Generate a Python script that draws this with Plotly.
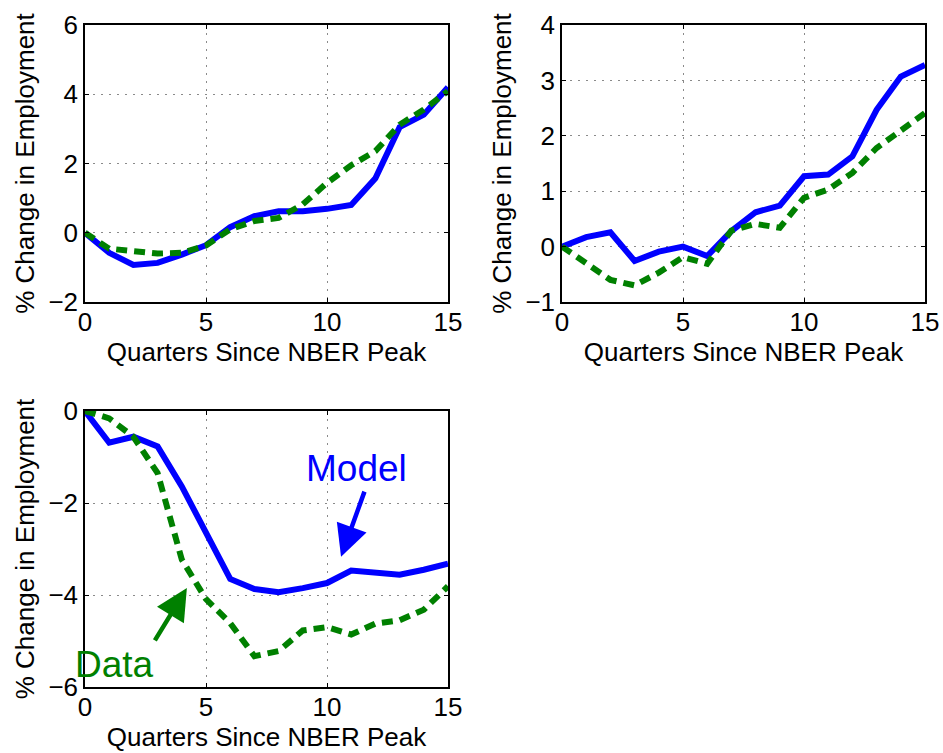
import plotly.graph_objects as go

# Quarters since the NBER business-cycle peak
quarters = list(range(16))

# Panel 1
model_a = [0.0, -0.58, -0.93, -0.87, -0.63, -0.36, 0.16, 0.48, 0.62, 0.62, 0.69, 0.80, 1.57, 3.05, 3.41, 4.20]
data_a = [0.0, -0.46, -0.53, -0.60, -0.58, -0.37, 0.10, 0.34, 0.43, 0.82, 1.44, 1.95, 2.36, 3.12, 3.56, 4.09]

# Panel 2
model_b = [0.0, 0.17, 0.26, -0.26, -0.09, 0.0, -0.17, 0.28, 0.62, 0.74, 1.27, 1.30, 1.63, 2.47, 3.07, 3.28]
data_b = [0.0, -0.29, -0.60, -0.70, -0.47, -0.19, -0.31, 0.29, 0.41, 0.34, 0.88, 1.03, 1.33, 1.78, 2.11, 2.41]

# Panel 3
model_c = [0.0, -0.69, -0.56, -0.77, -1.64, -2.66, -3.65, -3.87, -3.94, -3.85, -3.74, -3.47, -3.51, -3.56, -3.45, -3.32]
data_c = [0.0, -0.16, -0.56, -1.35, -3.23, -4.09, -4.61, -5.33, -5.22, -4.77, -4.70, -4.86, -4.62, -4.55, -4.32, -3.81]

x_ticks = [0, 5, 10, 15]
y_ticks_a = [-2, 0, 2, 4, 6]
y_ticks_b = [-1, 0, 1, 2, 3, 4]
y_ticks_c = [-6, -4, -2, 0]

BLUE = "#0000ff"
GREEN = "#008000"
W, H = 943, 753
FONT = "Liberation Sans, Arial, sans-serif"

fig = go.Figure()

panels = [
    ("x", "y", model_a, data_a),
    ("x2", "y2", model_b, data_b),
    ("x3", "y3", model_c, data_c),
]
for xa, ya, model, data in panels:
    fig.add_trace(go.Scatter(x=quarters, y=model, mode="lines", xaxis=xa, yaxis=ya,
                             line=dict(color=BLUE, width=6), showlegend=False))
    fig.add_trace(go.Scatter(x=quarters, y=data, mode="lines", xaxis=xa, yaxis=ya,
                             line=dict(color=GREEN, width=6, dash="11px,7px"), showlegend=False))


def dom_x(a, b):
    return [a / W, b / W]


def dom_y(top, bottom):
    return [1 - bottom / H, 1 - top / H]


axis_common = dict(
    automargin=False,
    showline=True, linecolor="black", linewidth=1.5, mirror="ticks",
    ticks="inside", ticklen=4, tickcolor="black",
    showgrid=True, gridcolor="#8a8a8a", griddash="2px,6px", gridwidth=1.2,
    zeroline=False,
    tickfont=dict(family=FONT, size=26, color="black"),
)

xtitle = dict(text="Quarters Since NBER Peak", font=dict(family=FONT, size=26, color="black"), standoff=0)
ytitle = dict(text="% Change in Employment", font=dict(family=FONT, size=26, color="black"), standoff=6)
x_extra = dict(ticklabelstandoff=-4)

fig.update_layout(
    width=W, height=H,
    margin=dict(l=0, r=0, t=0, b=0),
    paper_bgcolor="white", plot_bgcolor="white",
    xaxis=dict(domain=dom_x(85, 448), range=[0, 15], tickvals=x_ticks, anchor="y",
               title=xtitle, **x_extra, **axis_common),
    yaxis=dict(domain=dom_y(25, 302), range=[-2, 6], tickvals=y_ticks_a, anchor="x",
               title=ytitle, **axis_common),
    xaxis2=dict(domain=dom_x(562, 925), range=[0, 15], tickvals=x_ticks, anchor="y2",
                title=xtitle, **x_extra, **axis_common),
    yaxis2=dict(domain=dom_y(25, 302), range=[-1, 4], tickvals=y_ticks_b, anchor="x2",
                title=ytitle, **axis_common),
    xaxis3=dict(domain=dom_x(85, 448), range=[0, 15], tickvals=x_ticks, anchor="y3",
                title=xtitle, **x_extra, **axis_common),
    yaxis3=dict(domain=dom_y(411, 687), range=[-6, 0], tickvals=y_ticks_c, anchor="x3",
                title=ytitle, **axis_common),
)

# Labels and arrows in the third panel
fig.add_annotation(x=11.2, y=-1.24, xref="x3", yref="y3", text="Model", showarrow=False,
                   font=dict(family=FONT, size=37, color=BLUE))
fig.add_annotation(x=10.58, y=-3.17, xref="x3", yref="y3", ax=11.57, ay=-1.72,
                   axref="x3", ayref="y3", text="", showarrow=True,
                   arrowhead=2, arrowsize=1.4, arrowwidth=4.5, arrowcolor=BLUE)
fig.add_annotation(x=1.2, y=-5.5, xref="x3", yref="y3", text="Data", showarrow=False,
                   font=dict(family=FONT, size=37, color=GREEN))
fig.add_annotation(x=4.21, y=-3.85, xref="x3", yref="y3", ax=2.85, ay=-5.02,
                   axref="x3", ayref="y3", text="", showarrow=True,
                   arrowhead=2, arrowsize=1.4, arrowwidth=4.5, arrowcolor=GREEN)

fig.write_html("out.html")
